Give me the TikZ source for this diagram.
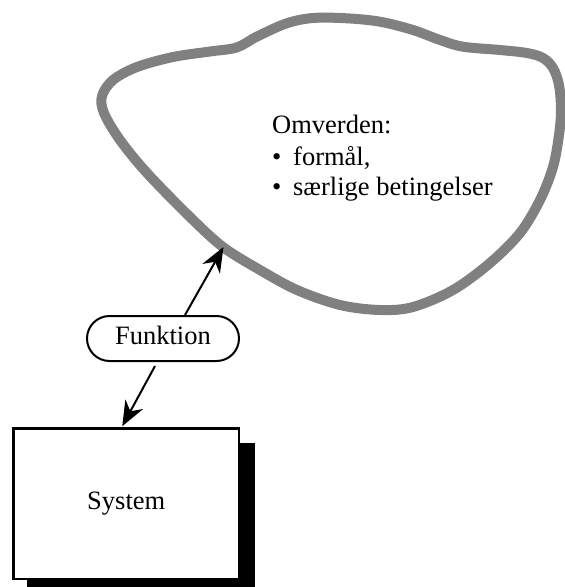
\documentclass[tikz,border=0pt]{standalone}
\usepackage{fontspec}
\setmainfont{Liberation Serif}
\usetikzlibrary{arrows.meta,calc}
\pgfdeclarelayer{back}
\pgfsetlayers{back,main}

\begin{document}
\begin{tikzpicture}[x=1pt,y=-1pt,
  cloudline/.style={draw=black!50, line width=10pt, line join=round},
  txt/.style={font=\fontsize{26.5}{31}\selectfont, inner sep=0pt},
  conn/.style={line width=2pt, -{Stealth[length=25pt,width=20pt,inset=8pt]}},
  funcbox/.style={draw, line width=2pt, rounded corners=22.5pt,
    minimum width=152pt, minimum height=45pt, inner sep=0pt,
    font=\fontsize{26.5}{31}\selectfont, text height=18pt, text depth=6pt},
  sysbox/.style={draw, line width=2.5pt, fill=white,
    minimum width=225.5pt, minimum height=150.5pt, inner sep=0pt,
    font=\fontsize{26.5}{31}\selectfont, text height=18pt, text depth=6pt},
  shadowfill/.style={fill=black}
]
\useasboundingbox (0,0) rectangle (565,587);

% the surroundings: a closed freehand outline
\draw[cloudline] plot[smooth cycle, tension=0.55] coordinates {
  (236.7,47.5) (256.7,36.7) (286.7,23.3) (313,18) (346.7,18.3) (380,21.7)
  (413,30) (440,40) (463,46.7) (500,50) (527,53) (543,58) (553,68)
  (559,85) (561,110) (559,135) (553,167) (540,200) (520,233) (490,263)
  (453,290) (413,307) (380,310) (340,305) (297,290) (260,270) (223,247)
  (190,217) (147,173) (120,140) (104,113) (102,96) (113,80) (137,67)
  (173,57) (210,51.5)};

\node[txt, anchor=base west] (omv) at (272,133.5) {Omverden:};
\node[txt, anchor=base west] (itemA) at (272,165) {\makebox[21pt][l]{\textbullet}formål,};
\node[txt, anchor=base west] (itemB) at (272,195.5) {\makebox[21pt][l]{\textbullet}særlige betingelser};

% function label and system box
\node[funcbox] (funk) at (163,338.5) {Funktion};
\node[sysbox] (sys) at (126.25,503.75) {System};

% solid shadow behind the system box
\begin{pgfonlayer}{back}
  \fill[shadowfill] ($(sys.north west)+(15,15.5)$) rectangle ($(sys.south east)+(15,15.5)$);
\end{pgfonlayer}

\coordinate (cloudtip) at (223.5,247);
\draw[conn] ($(funk.north)+(22,0)$) -- (cloudtip);
\draw[conn] ($(funk.south)+(-8,4)$) -- ($(sys.north)+(-4,-1)$);
\end{tikzpicture}
\end{document}
